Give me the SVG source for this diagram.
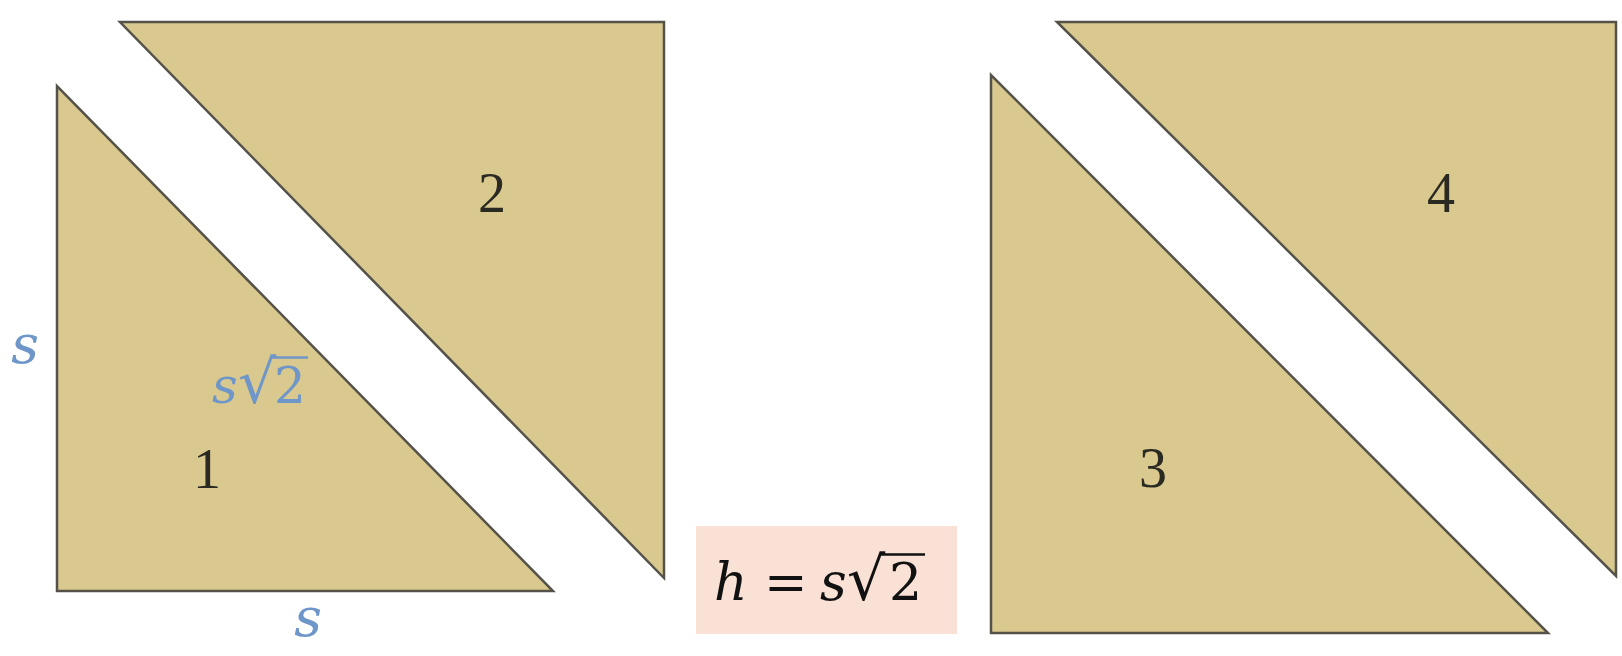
<svg xmlns="http://www.w3.org/2000/svg" width="1622" height="656" viewBox="0 0 1622 656">
<style>
.tri{fill:#d9c98f;stroke:#55524a;stroke-width:2.5;stroke-linejoin:miter}
.num{font-family:"Liberation Serif",serif;font-size:56px;fill:#2a2a22;text-anchor:middle}
.lbl{font-family:"DejaVu Serif",serif;font-style:italic;fill:#6f96c8}
.eq{font-family:"DejaVu Serif",serif;font-size:52px;fill:#111}
</style>
<rect width="1622" height="656" fill="#ffffff"/>
<g id="tri1"><polygon class="tri" points="57,86 57,591 553,591"/><text class="num" x="207" y="488">1</text></g>
<g id="tri2"><polygon class="tri" points="120,22 664,22 664,578"/><text class="num" x="492" y="212">2</text></g>
<g id="tri3"><polygon class="tri" points="991,75 991,633 1548,633"/><text class="num" x="1153" y="487">3</text></g>
<g id="tri4"><polygon class="tri" points="1057,22 1616,22 1616,576"/><text class="num" x="1441" y="212">4</text></g>
<g id="labels">
<text class="lbl" x="25" y="363" font-size="54" text-anchor="middle">s</text>
<text class="lbl" x="308" y="636" font-size="54" text-anchor="middle">s</text>
<text class="lbl" y="403" font-size="50"><tspan x="212">s</tspan><tspan x="238" font-style="normal" font-size="60">√</tspan><tspan x="274" font-style="normal">2</tspan></text>
<line x1="271" y1="357.5" x2="308" y2="357.5" stroke="#6f96c8" stroke-width="2.5"/>
</g>
<g id="formula">
<rect x="696" y="526" width="261" height="108" fill="#f9e1d5"/>
<text class="eq" y="600"><tspan x="714" font-style="italic">h</tspan><tspan x="764">=</tspan><tspan x="820" font-style="italic">s</tspan><tspan x="847" font-size="60">√</tspan><tspan x="889">2</tspan></text>
<line x1="880" y1="554.5" x2="925" y2="554.5" stroke="#111" stroke-width="2.5"/>
</g>
</svg>
